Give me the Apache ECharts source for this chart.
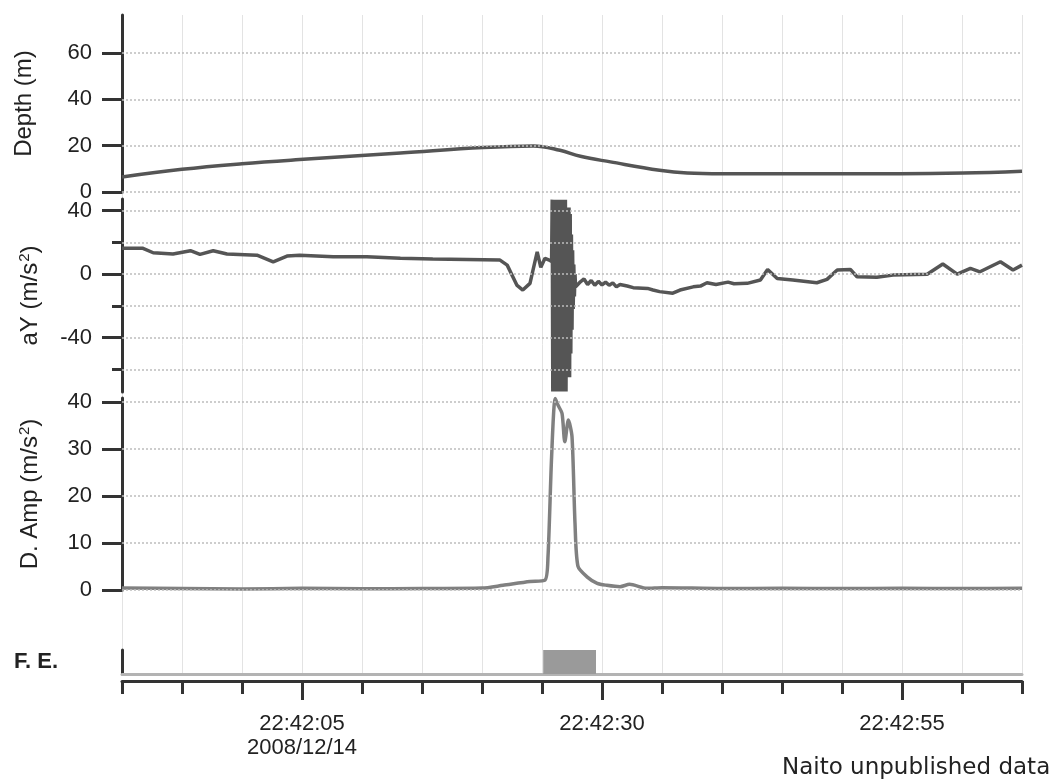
<!DOCTYPE html>
<html>
<head>
<meta charset="utf-8">
<script src="https://cdn.jsdelivr.net/npm/echarts@6/dist/echarts.min.js"></script>
<style>
html,body{margin:0;padding:0;background:#fff;}
#chart{width:1055px;height:784px;}
</style>
</head>
<body>
<div id="chart"></div>
<script>
// time axis: seconds after 22:41:50 on 2008/12/14
const xTicksMajor = [15, 40, 65];
const xTickLabels = ['22:42:05\n2008/12/14', '22:42:30', '22:42:55'];

const depthTicks = [0, 20, 40, 60];
const aYTicksMajor = [40, 0, -40];
const aYTicksMinor = [20, -20, -60];
const aYGrid = [40, 20, 0, -20, -40, -60];
const ampTicks = [0, 10, 20, 30, 40];

// Depth (m): [seconds, depth]
const depthData = [
  [0, 6.5], [5, 9.8], [10, 12.2], [14.8, 14], [23.2, 16.8], [30.1, 19.2], [34.3, 19.9],
  [36.5, 18], [38.2, 15.4], [40.7, 13], [44.8, 9.4], [47.1, 8.2], [50, 7.9],
  [56.5, 7.9], [64.8, 7.9], [70.1, 8.2], [75, 9]
];

// aY (m/s^2): [seconds, value]
const aYData = [
  [0, 16.3], [1.75, 16.3], [2.6, 13.5], [4.25, 12.7], [5.7, 14.8], [6.5, 12.5], [7.6, 14.8],
  [8.75, 12.7], [11.25, 12], [12.6, 7.8], [13.75, 11.4], [14.8, 12], [17.6, 11], [20.4, 11],
  [23.2, 10], [25.9, 9.5], [28.75, 9.3], [31.5, 8.9], [32.1, 5.7], [32.9, -6.9], [33.4, -10],
  [34, -5.8], [34.25, 2.6], [34.6, 14.1], [34.9, 4.3], [35.25, 10], [35.6, 8.9],
  [35.8, 8], [35.85, 47], [35.9, -74], [35.95, 47], [36.0, -74], [36.05, 47], [36.1, -74],
  [36.15, 47], [36.2, -74], [36.25, 47], [36.3, -74], [36.35, 30], [36.4, -60], [36.45, 47],
  [36.5, -74], [36.55, 47], [36.6, -74], [36.65, 47], [36.7, -74], [36.75, 47], [36.8, -74],
  [36.85, 47], [36.9, -70], [36.95, 47], [37.0, -74], [37.05, 40], [37.1, -60], [37.15, 42],
  [37.2, -65], [37.25, 42], [37.3, -65], [37.35, 38], [37.4, -50], [37.45, 25], [37.5, -35],
  [37.55, 15], [37.6, -22], [37.65, 6], [37.7, -14], [37.75, 0], [37.8, -8],
  [38.2, -4.8], [38.5, -3], [38.8, -6.5], [39.1, -4], [39.4, -7], [39.7, -4.5], [40.0, -6.8],
  [40.3, -5], [40.6, -7], [40.9, -5.5], [41.2, -8], [41.5, -6.5], [42.1, -7.5], [42.6, -8.5],
  [43.8, -9], [44.25, -10], [44.8, -11], [45.9, -12], [46.5, -10], [47.6, -8], [48.2, -7.5],
  [48.75, -5.4], [49.5, -6.5], [50.5, -5], [51.0, -6], [52.1, -5.8], [53.2, -3.7], [53.8, 3],
  [54.6, -2.7], [55.9, -3.7], [57.9, -5.4], [58.75, -3.3], [59.6, 2.6], [60.7, 3],
  [61.25, -1.6], [62.9, -2], [64.25, -0.6], [67.1, 0], [68.4, 6.4], [69.6, 0], [70.7, 3.6],
  [71.5, 1.5], [73.2, 7.8], [74.25, 2.6], [75, 5.7]
];

// D. Amp (m/s^2): [seconds, value]
const ampData = [
  [0, 0.4], [5, 0.3], [10, 0.2], [15, 0.35], [20, 0.25], [25, 0.3], [30, 0.4], [31.75, 1.0],
  [34, 1.8], [35.25, 2.1], [35.5, 7.1], [35.8, 28.3], [36.1, 40.7], [36.33, 39.3],
  [36.67, 37.5], [36.9, 31.5], [37.2, 36.1], [37.5, 32.6], [37.75, 14.2], [38, 5],
  [38.75, 2.8], [39.6, 1.4], [40.4, 1], [41.5, 0.7], [42.3, 1.2], [43.75, 0.35], [45, 0.5],
  [50, 0.3], [55, 0.35], [60, 0.3], [65, 0.35], [70, 0.3], [75, 0.35]
];

// F. E. period: [start s, end s]
const feData = [[35.1, 39.5]];

const AXIS = '#333';
const FONT = 'Liberation Sans, Arial, sans-serif';
const L = 122, R = 33;

function gridMark(values) {
  return {
    silent: true, symbol: 'none', label: {show: false},
    lineStyle: {color: '#bdbdbd', type: [2, 2], width: 1.5},
    data: values.map(v => ({yAxis: v}))
  };
}

const hiddenX = (g) => ({gridIndex: g, type: 'value', min: 0, max: 75, show: false});
const nameStyle = {fontFamily: FONT, fontSize: 24, color: '#222',
  rich: {sup: {fontFamily: FONT, fontSize: 15, color: '#222', verticalAlign: 'top', padding: [0, 0, 11, 1]}}};

const chart = echarts.init(document.getElementById('chart'), null, {renderer: 'canvas'});
chart.setOption({
  animation: false,
  backgroundColor: '#fff',
  title: {
    text: 'Naito unpublished data', left: 782, top: 757, padding: 0,
    textStyle: {fontFamily: 'DejaVu Sans', fontSize: 23, fontWeight: 'normal', color: '#222'}
  },
  grid: [
    {left: L, right: R, top: 15, height: 659},
    {left: L, right: R, top: 15, height: 177},
    {left: L, right: R, top: 199, height: 193},
    {left: L, right: R, top: 398, height: 192},
    {left: L, right: R, top: 650, height: 24}
  ],
  xAxis: [
    {gridIndex: 0, type: 'value', min: 0, max: 75, interval: 5,
     axisLine: {show: false}, axisTick: {show: false}, axisLabel: {show: false},
     splitLine: {show: true, lineStyle: {color: '#e3e3e3', width: 1}}},
    hiddenX(1), hiddenX(2), hiddenX(3),
    {gridIndex: 4, type: 'value', min: 0, max: 75, position: 'bottom',
     axisLine: {show: true, lineStyle: {color: '#b3b3b3', width: 3}},
     axisTick: {show: false}, axisLabel: {show: false}, splitLine: {show: false}},
    {gridIndex: 4, type: 'value', min: 0, max: 75, interval: 5, position: 'bottom', offset: 7,
     axisLine: {show: true, lineStyle: {color: AXIS, width: 3}},
     axisTick: {show: true, length: 13, lineStyle: {color: AXIS, width: 3}},
     axisLabel: {show: false}, splitLine: {show: false}},
    {gridIndex: 4, type: 'value', min: 0, max: 75, position: 'bottom', offset: 7,
     axisLine: {show: false},
     axisTick: {show: true, length: 19, customValues: xTicksMajor, lineStyle: {color: AXIS, width: 3}},
     axisLabel: {show: true, customValues: xTicksMajor, margin: 31,
       fontFamily: FONT, fontSize: 22, color: '#222', lineHeight: 24,
       formatter: v => xTickLabels[xTicksMajor.indexOf(Math.round(v))] || ''},
     splitLine: {show: false}}
  ],
  yAxis: [
    {gridIndex: 0, type: 'value', min: 0, max: 1, show: false},
    {gridIndex: 1, type: 'value', min: 0, max: 76.4, position: 'left',
     name: 'Depth (m)', nameLocation: 'middle', nameGap: 86,
     nameTextStyle: nameStyle,
     axisLine: {show: true, lineStyle: {color: AXIS, width: 3}},
     axisTick: {show: true, length: 20, customValues: depthTicks, lineStyle: {color: AXIS, width: 3}},
     axisLabel: {customValues: depthTicks, margin: 30, fontFamily: FONT, fontSize: 22, color: '#222'},
     splitLine: {show: false}},
    {gridIndex: 2, type: 'value', min: -74.3, max: 47.4, position: 'left',
     name: 'aY (m/s{sup|2})', nameLocation: 'middle', nameGap: 79,
     nameTextStyle: nameStyle,
     axisLine: {show: true, lineStyle: {color: AXIS, width: 3}},
     axisTick: {show: true, length: 20, customValues: aYTicksMajor, lineStyle: {color: AXIS, width: 3}},
     axisLabel: {customValues: aYTicksMajor, margin: 30, fontFamily: FONT, fontSize: 22, color: '#222'},
     splitLine: {show: false}},
    {gridIndex: 2, type: 'value', min: -74.3, max: 47.4, position: 'left',
     axisLine: {show: false},
     axisTick: {show: true, length: 10, customValues: aYTicksMinor, lineStyle: {color: AXIS, width: 3}},
     axisLabel: {show: false}, splitLine: {show: false}},
    {gridIndex: 3, type: 'value', min: 0, max: 40.8, position: 'left',
     name: 'D. Amp (m/s{sup|2})', nameLocation: 'middle', nameGap: 79,
     nameTextStyle: nameStyle,
     axisLine: {show: true, lineStyle: {color: AXIS, width: 3}},
     axisTick: {show: true, length: 20, customValues: ampTicks, lineStyle: {color: AXIS, width: 3}},
     axisLabel: {customValues: ampTicks, margin: 30, fontFamily: FONT, fontSize: 22, color: '#222'},
     splitLine: {show: false}},
    {gridIndex: 4, type: 'value', min: 0, max: 1, position: 'left',
     name: 'F. E.', nameLocation: 'middle', nameRotate: 0, nameGap: 64,
     nameTextStyle: {fontFamily: FONT, fontSize: 22, color: '#222', fontWeight: 'bold'},
     axisLine: {show: true, lineStyle: {color: AXIS, width: 3}},
     axisTick: {show: false}, axisLabel: {show: false}, splitLine: {show: false}}
  ],
  series: [
    {type: 'line', xAxisIndex: 1, yAxisIndex: 1, data: depthData, showSymbol: false, smooth: 0.4,
     lineStyle: {color: '#555', width: 3.5}, markLine: gridMark(depthTicks), z: 3},
    {type: 'line', xAxisIndex: 2, yAxisIndex: 2, data: aYData, showSymbol: false,
     lineStyle: {color: '#555', width: 3.5}, markLine: gridMark(aYGrid), z: 3},
    {type: 'line', xAxisIndex: 3, yAxisIndex: 4, data: ampData, showSymbol: false, smooth: 0.25,
     lineStyle: {color: '#808080', width: 3.5}, markLine: gridMark(ampTicks), z: 3},
    {type: 'custom', xAxisIndex: 4, yAxisIndex: 5, data: feData,
     renderItem: function (params, api) {
       const p0 = api.coord([api.value(0), 1]);
       const p1 = api.coord([api.value(1), 0]);
       return {type: 'rect', shape: {x: p0[0], y: p0[1], width: p1[0] - p0[0], height: p1[1] - p0[1]},
               style: {fill: '#9a9a9a'}};
     }}
  ]
});
</script>
</body>
</html>
